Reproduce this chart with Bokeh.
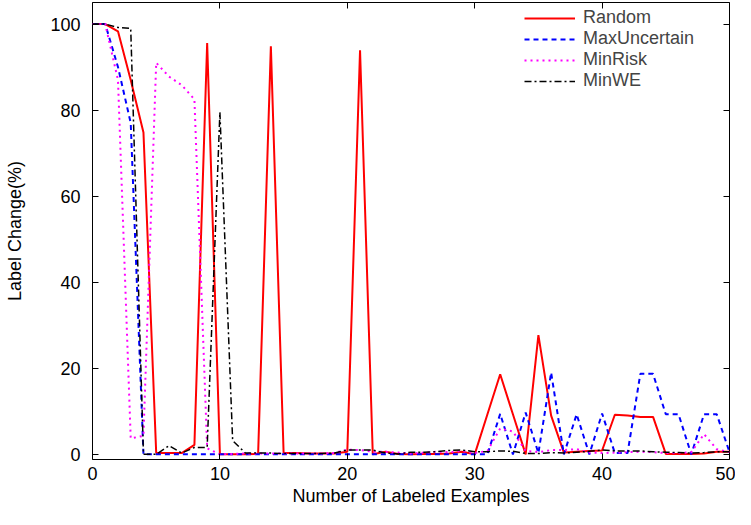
from bokeh.plotting import figure
from bokeh.models import Range1d, Legend, LegendItem, FixedTicker, LinearAxis, CustomJSTickFormatter
from bokeh.embed import file_html
from bokeh.resources import INLINE

x_vals = list(range(0, 51))

random_vals = [100, 100, 98.3, 87, 74.8, 0.3, 0.3, 0.3, 2.2, 95.6,
               0, 0, 0, 0.1, 94.8, 0.3, 0.3, 0.2, 0.2, 0.2,
               0.6, 93.9, 0, 0.6, 0.1, 0, 0.1, 0.1, 0.2, 0.6,
               0, 9.3, 18.6, 9.3, 0, 27.7, 9.0, 0.4, 0.6, 0.8,
               0.9, 9.2, 9.0, 8.7, 8.7, 0.1, 0.1, 0.1, 0.2, 0.6, 0.6]

maxuncertain_vals = [100, 100, 90, 77, 0, 0, 0, 0, 0, 0,
                     0, 0, 0, 0, 0, 0, 0, 0, 0, 0,
                     0, 0, 0, 0, 0, 0, 0, 0, 0, 0,
                     0, 0, 9.4, 0, 9.7, 0.3, 19, 0, 9.3, 0,
                     9.5, 0.3, 0.3, 18.7, 18.7, 9.3, 9.3, 0, 9.3, 9.3, 0.5]

minrisk_vals = [100, 100, 87, 3.7, 4.3, 91, 87.8, 85.8, 82.5, 1.4,
                0, 0.1, 0.2, 0.2, 0.2, 0.2, 0.2, 0.2, 0.2, 0.3,
                1.1, 1.0, 0.6, 0.6, 0.4, 0.2, 0.4, 0.6, 0.5, 0.8,
                0.3, 0.8, 6.0, 5.3, 0.8, 0.5, 1.0, 1.0, 1.2, 0.4,
                0.3, 0.4, 0.5, 0.6, 0.5, 0.3, 0.3, 0.5, 4.7, 1.2, 0.5]

minwe_vals = [100, 100, 99.2, 99, 0, 0, 2.0, 0.3, 1.6, 1.6,
              79.5, 3.2, 0.3, 0.3, 0.3, 0.2, 0.2, 0.2, 0.2, 0.3,
              1.0, 1.0, 1.0, 0.3, 0.1, 0.5, 0.5, 0.6, 0.9, 1.0,
              0.6, 0.6, 0.8, 0.7, 0.2, 0.2, 0.4, 0.3, 0.5, 0.7,
              1.0, 0.8, 0.8, 0.8, 0.6, 0.5, 0.4, 0.3, 0.4, 0.6, 0.6]

series_names = ["Random", "MaxUncertain", "MinRisk", "MinWE"]
x_ticks = [0, 10, 20, 30, 40, 50]
y_ticks = [0, 20, 40, 60, 80, 100]

FONT = "Liberation Sans"
FS = "18px"

p = figure(width=735, height=509, output_backend="svg", toolbar_location=None,
           x_range=Range1d(0, 50), y_range=Range1d(-1.2, 105),
           min_border_left=92, min_border_right=6, min_border_top=2, min_border_bottom=50,
           x_axis_label="Number of Labeled Examples", y_axis_label="Label Change(%)")

p.xgrid.visible = False
p.ygrid.visible = False
p.outline_line_color = "black"
p.outline_line_width = 1
p.background_fill_color = "white"
p.border_fill_color = "white"

for ax, ticks in ((p.xaxis[0], x_ticks), (p.yaxis[0], y_ticks)):
    ax.ticker = FixedTicker(ticks=ticks)
    ax.minor_tick_line_color = None
    ax.major_tick_in = 6
    ax.major_tick_out = 0
    ax.major_tick_line_color = "black"
    ax.axis_line_color = None
    ax.major_label_text_font = FONT
    ax.major_label_text_font_size = FS
    ax.major_label_text_color = "black"
    ax.axis_label_text_font = FONT
    ax.axis_label_text_font_size = FS
    ax.axis_label_text_font_style = "normal"
    ax.axis_label_text_color = "black"

p.yaxis[0].major_label_standoff = 12
p.yaxis[0].axis_label_standoff = 22
p.xaxis[0].major_label_standoff = 7
p.xaxis[0].axis_label_standoff = 3

# mirrored inward ticks on top and right (no labels)
blank = CustomJSTickFormatter(code="return ''")
top_ax = LinearAxis(ticker=FixedTicker(ticks=x_ticks), formatter=blank)
right_ax = LinearAxis(ticker=FixedTicker(ticks=y_ticks), formatter=blank)
for ax in (top_ax, right_ax):
    ax.minor_tick_line_color = None
    ax.major_tick_in = 6
    ax.major_tick_out = 0
    ax.major_tick_line_color = "black"
    ax.axis_line_color = None
    ax.major_label_standoff = 0
    ax.major_label_text_font_size = "1px"
p.add_layout(top_ax, "above")
p.add_layout(right_ax, "right")

r1 = p.line(x_vals, random_vals, line_color="#ff0000", line_width=2)
r2 = p.line(x_vals, maxuncertain_vals, line_color="#0000ff", line_width=2, line_dash="5 4")
r3 = p.line(x_vals, minrisk_vals, line_color="#ff00ff", line_width=2, line_dash="2 4")
r4 = p.line(x_vals, minwe_vals, line_color="black", line_width=1.5, line_dash="7 3 2 3")
renderers = [r1, r2, r3, r4]

legend = Legend(items=[LegendItem(label=n, renderers=[r]) for n, r in zip(series_names, renderers)],
                location=(432, 368))
legend.background_fill_alpha = 0
legend.border_line_color = None
legend.label_text_font = FONT
legend.label_text_font_size = FS
legend.glyph_width = 51
legend.glyph_height = 18
legend.label_height = 18
legend.label_standoff = 8
legend.spacing = -2
legend.padding = 0
legend.margin = 0
p.add_layout(legend)

open("out.html", "w").write(file_html(p, INLINE))
